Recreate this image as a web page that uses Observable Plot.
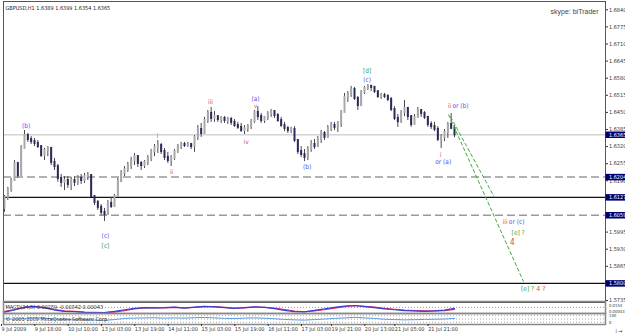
<!DOCTYPE html>
<html><head><meta charset="utf-8">
<script src="https://cdn.jsdelivr.net/npm/d3@7"></script>
<script src="https://cdn.jsdelivr.net/npm/@observablehq/plot@0.6"></script>
<style>
body{margin:0;background:#fff}
#wrap{position:relative;width:625px;height:334px;overflow:hidden;background:#fff}
#wrap svg{position:absolute;left:0}
</style>
</head><body><div id="wrap"></div>
<script>
// ---- price bars (one entry per bar) ----
const barOpen = [1.6085,1.6127,1.6157,1.6191,1.6256,1.6210,1.6313,1.6362,1.6347,1.6339,1.6332,1.6320,1.6286,1.6305,1.6313,1.6260,1.6244,1.6199,1.6184,1.6191,
1.6176,1.6191,1.6184,1.6199,1.6191,1.6206,1.6210,1.6130,1.6108,1.6089,1.6070,1.6062,1.6104,1.6092,1.6130,1.6187,1.6218,1.6233,1.6248,1.6267,
1.6282,1.6256,1.6248,1.6260,1.6275,1.6301,1.6317,1.6324,1.6301,1.6279,1.6267,1.6275,1.6301,1.6320,1.6328,1.6324,1.6328,1.6320,1.6355,1.6385,
1.6370,1.6419,1.6446,1.6427,1.6434,1.6423,1.6427,1.6419,1.6423,1.6412,1.6400,1.6393,1.6381,1.6389,1.6396,1.6415,1.6450,1.6434,1.6419,1.6431,
1.6446,1.6453,1.6438,1.6419,1.6400,1.6389,1.6381,1.6385,1.6343,1.6301,1.6290,1.6279,1.6309,1.6328,1.6320,1.6347,1.6370,1.6355,1.6389,1.6400,
1.6393,1.6408,1.6450,1.6507,1.6518,1.6537,1.6503,1.6476,1.6526,1.6541,1.6549,1.6545,1.6529,1.6510,1.6514,1.6510,1.6499,1.6461,1.6427,1.6415,
1.6450,1.6465,1.6434,1.6404,1.6431,1.6457,1.6446,1.6431,1.6404,1.6396,1.6385,1.6347,1.6355,1.6374,1.6404,1.6389];
const barHigh = [1.6134,1.6165,1.6199,1.6267,1.6256,1.6324,1.6381,1.6370,1.6358,1.6351,1.6343,1.6324,1.6313,1.6320,1.6313,1.6275,1.6252,1.6214,1.6206,1.6206,
1.6203,1.6206,1.6210,1.6214,1.6218,1.6222,1.6214,1.6134,1.6115,1.6100,1.6085,1.6115,1.6127,1.6138,1.6199,1.6229,1.6244,1.6260,1.6279,1.6294,
1.6286,1.6263,1.6267,1.6286,1.6309,1.6328,1.6343,1.6332,1.6313,1.6298,1.6286,1.6309,1.6328,1.6336,1.6336,1.6336,1.6332,1.6362,1.6400,1.6408,
1.6431,1.6457,1.6469,1.6453,1.6438,1.6434,1.6434,1.6431,1.6431,1.6423,1.6412,1.6408,1.6400,1.6404,1.6423,1.6457,1.6472,1.6446,1.6434,1.6453,
1.6461,1.6457,1.6446,1.6431,1.6412,1.6396,1.6393,1.6396,1.6347,1.6320,1.6309,1.6320,1.6343,1.6347,1.6358,1.6381,1.6377,1.6400,1.6412,1.6412,
1.6415,1.6457,1.6522,1.6529,1.6549,1.6545,1.6510,1.6533,1.6549,1.6556,1.6552,1.6549,1.6529,1.6522,1.6522,1.6518,1.6507,1.6472,1.6442,1.6457,
1.6495,1.6469,1.6438,1.6442,1.6469,1.6461,1.6453,1.6434,1.6415,1.6412,1.6396,1.6366,1.6385,1.6412,1.6446,1.6399];
const barLow = [1.6070,1.6115,1.6146,1.6191,1.6199,1.6210,1.6313,1.6336,1.6328,1.6320,1.6313,1.6279,1.6267,1.6282,1.6248,1.6229,1.6184,1.6165,1.6153,1.6161,
1.6153,1.6168,1.6172,1.6176,1.6180,1.6191,1.6127,1.6096,1.6077,1.6058,1.6035,1.6058,1.6085,1.6089,1.6127,1.6184,1.6206,1.6222,1.6233,1.6248,
1.6241,1.6229,1.6237,1.6248,1.6263,1.6282,1.6294,1.6290,1.6267,1.6256,1.6244,1.6267,1.6294,1.6309,1.6317,1.6317,1.6309,1.6298,1.6343,1.6355,
1.6366,1.6408,1.6412,1.6412,1.6412,1.6408,1.6408,1.6404,1.6400,1.6393,1.6385,1.6374,1.6366,1.6374,1.6385,1.6408,1.6419,1.6408,1.6408,1.6419,
1.6431,1.6427,1.6412,1.6393,1.6377,1.6370,1.6370,1.6336,1.6290,1.6279,1.6263,1.6267,1.6298,1.6309,1.6317,1.6332,1.6343,1.6351,1.6377,1.6381,
1.6374,1.6393,1.6450,1.6488,1.6507,1.6495,1.6457,1.6472,1.6518,1.6533,1.6529,1.6522,1.6503,1.6499,1.6503,1.6491,1.6453,1.6419,1.6393,1.6408,
1.6434,1.6419,1.6393,1.6404,1.6431,1.6431,1.6423,1.6393,1.6385,1.6377,1.6339,1.6313,1.6339,1.6351,1.6385,1.6354];
const barClose = [1.6127,1.6157,1.6191,1.6256,1.6210,1.6313,1.6362,1.6347,1.6339,1.6332,1.6320,1.6286,1.6305,1.6313,1.6260,1.6244,1.6199,1.6184,1.6191,1.6176,
1.6191,1.6184,1.6199,1.6191,1.6206,1.6210,1.6130,1.6108,1.6089,1.6070,1.6062,1.6104,1.6092,1.6130,1.6187,1.6218,1.6233,1.6248,1.6267,1.6282,
1.6256,1.6248,1.6260,1.6275,1.6301,1.6317,1.6324,1.6301,1.6279,1.6267,1.6275,1.6301,1.6320,1.6328,1.6324,1.6328,1.6320,1.6355,1.6385,1.6370,
1.6419,1.6446,1.6427,1.6434,1.6423,1.6427,1.6419,1.6423,1.6412,1.6400,1.6393,1.6381,1.6389,1.6396,1.6415,1.6450,1.6434,1.6419,1.6431,1.6446,
1.6453,1.6438,1.6419,1.6400,1.6389,1.6381,1.6385,1.6343,1.6301,1.6290,1.6279,1.6309,1.6328,1.6320,1.6347,1.6370,1.6355,1.6389,1.6400,1.6393,
1.6408,1.6450,1.6507,1.6518,1.6537,1.6503,1.6476,1.6526,1.6541,1.6549,1.6545,1.6529,1.6510,1.6514,1.6510,1.6499,1.6461,1.6427,1.6415,1.6450,
1.6465,1.6434,1.6404,1.6431,1.6457,1.6446,1.6431,1.6404,1.6396,1.6385,1.6347,1.6355,1.6374,1.6404,1.6389,1.6365];

// ---- time axis labels ----
const timeLabels = ["9 Jul 2009","9 Jul 18:00","10 Jul 10:00","13 Jul 03:00","13 Jul 19:00","14 Jul 11:00","15 Jul 03:00","15 Jul 19:00","16 Jul 11:00","17 Jul 03:00","19 Jul 21:00","20 Jul 13:00","21 Jul 05:00","21 Jul 21:00"];
const timeLabelBar = [0,10,20,30,40,50,60,70,80,90,99,109,118,128];

// ---- price axis ----
const priceTicks = [1.6840,1.6775,1.6710,1.6645,1.6580,1.6515,1.6450,1.6385,1.6320,1.6255,1.6190,1.6125,1.6060,1.5995,1.5930,1.5865,1.5800,1.5735];
const markedLevels = [1.6365,1.6204,1.6127,1.6059,1.5800];
const bidLevel = [1.6365];
const dashedLevels = [1.6204,1.6059];
const solidLevels = [1.6127,1.5800];

// ---- projection lines (bar, price) ----
const projStartBar = [133.2,133.8];
const projStartPrice = [1.6442,1.6434];
const projEndBar = [155.7,147.0];
const projEndPrice = [1.5807,1.6127];

// ---- wave labels ----
const waveText  = ["(b)","(c)","[c]","i","ii","iii","(a)","v","iv","(b)","[d]","(c)","ii","or (b)","i","or (a)","iii","or (c)","[e] ?","4","[e] ?","4 ?"];
const waveBar   = [6.5,30.3,30.3,45.9,50.1,61.8,75.3,75.3,72.5,90.8,108.8,108.8,134.0,134.4,130.8,131.6,150.9,151.3,154.1,152.3,158.9,159.5];
const wavePrice = [1.6400,1.5982,1.5944,1.6362,1.6222,1.6488,1.6501,1.6474,1.6339,1.6241,1.6609,1.6575,1.6476,1.6476,1.6290,1.6263,1.6032,1.6032,1.5991,1.5957,1.5780,1.5780];
const waveKind  = ["b","b","g","r","r","r","b","r","r","b","g","b","r","b","r","b","r","b","g","r","g","r"];
const waveAnchor= ["middle","middle","middle","middle","middle","middle","middle","middle","middle","middle","middle","middle","end","start","middle","middle","end","start","middle","middle","end","start"];
const waveSize  = [6.5,6.5,6.5,6.5,6.5,6.5,6.5,6,6.5,6.5,6.5,6.5,6.5,6.5,6.5,6.5,6.5,6.5,6.5,8,6.5,7];

// ---- indicator panels (every 3rd bar) ----
const indBar = d3.range(0, 136, 3);
const macdRed = [-0.0030,-0.0016,-0.0002,0.0006,0.0000,-0.0016,-0.0026,-0.0030,-0.0035,-0.0038,-0.0040,-0.0036,-0.0024,-0.0012,-0.0004,-0.0003,-0.0004,0.0000,-0.0004,0.0000,
0.0006,0.0005,0.0000,-0.0006,-0.0004,0.0002,0.0001,-0.0006,-0.0016,-0.0028,-0.0033,-0.0026,-0.0018,-0.0006,0.0006,0.0013,0.0008,0.0002,-0.0008,-0.0014,
-0.0021,-0.0024,-0.0027,-0.0027,-0.0024,-0.0015];
const macdBlue = [-0.0036,-0.0020,0.0002,0.0008,-0.0004,-0.0020,-0.0030,-0.0032,-0.0038,-0.0040,-0.0040,-0.0030,-0.0018,-0.0008,-0.0002,-0.0004,-0.0002,0.0002,-0.0006,0.0002,
0.0008,0.0004,-0.0002,-0.0008,-0.0002,0.0004,0.0000,-0.0010,-0.0022,-0.0032,-0.0034,-0.0022,-0.0012,0.0000,0.0010,0.0014,0.0006,-0.0002,-0.0012,-0.0018,
-0.0024,-0.0026,-0.0030,-0.0026,-0.0020,-0.0008];
const macdAxisLabels = ["0.0153","0.00043"];
const macdAxisAt = [0.0010,-0.0030];
const oscValues = [52,48,55,60,58,50,45,44,42,40,38,45,55,58,60,62,57,60,58,62,64,60,56,54,58,60,57,52,46,42,40,45,50,55,60,65,60,55,48,45,42,44,46,48,50,55];
const oscLevels = [20,50,80];
const oscAxisLabels = ["100","0"];
const oscAxisAt = [78,18];

// ---- build tables ----
const bars = barClose.map((c,i)=>({i, open:barOpen[i], high:barHigh[i], low:barLow[i], close:c}));
const proj = projStartBar.map((b,k)=>({x1:b, y1:projStartPrice[k], x2:projEndBar[k], y2:projEndPrice[k]}));
const colors = {b:"#5555ee", r:"#d84a4a", g:"#3d9e3d"};
const waves = waveText.map((t,k)=>({t, i:waveBar[k], p:wavePrice[k], c:colors[waveKind[k]], a:waveAnchor[k], s:waveSize[k]}));
const macd = indBar.map((b,k)=>({i:b, red:macdRed[k], blue:macdBlue[k]}));
const osc = indBar.map((b,k)=>({i:b, v:oscValues[k]}));
const last = bars[bars.length-1];
const title = `GBPUSD,H1 ${last.open.toFixed(4)} ${last.high.toFixed(4)} ${last.low.toFixed(4)} ${last.close.toFixed(4)}`;

const FONT = "'Liberation Sans Narrow','DejaVu Sans Condensed','Liberation Sans',Arial,sans-serif";
const W = 625, ML = 3, MR = 20;
const XD = [-0.3, 180.3];
// convert a pixel column of the right price-axis strip into x-scale units (for the label boxes)
const pxToX = px => XD[0] + (px - ML) * (XD[1] - XD[0]) / (W - ML - MR);
const common = {width:W, marginLeft:ML, marginRight:MR, x:{domain:XD, axis:null}, style:{fontFamily:FONT, fontSize:"5.5px", background:"transparent", overflow:"visible"}};
const upCol = "#a8a8a8", dnCol = "#2a2a58", wick = "#4a4a4a";

const waveMarks = ["start","middle","end"].map(a =>
  Plot.text(waves.filter(d=>d.a===a), {x:"i", y:"p", text:"t", fill:"c", textAnchor:a, fontSize:"s", fontFamily:FONT}));

const main = Plot.plot({
  ...common, height:302, marginTop:1, marginBottom:0,
  y:{domain:[1.57274, 1.68715], axis:null},
  marks:[
    Plot.ruleY(bidLevel, {stroke:"#d4d4d4", strokeWidth:1.5}),
    Plot.ruleY(dashedLevels, {stroke:"#9a9a9a", strokeWidth:1.5, strokeDasharray:"8,4"}),
    Plot.ruleY(solidLevels, {stroke:"#111", strokeWidth:1.2}),
    Plot.ruleX(bars, {x:"i", y1:"low", y2:"high", stroke:wick, strokeWidth:1}),
    Plot.ruleX(bars, {x:"i", y1:"open", y2:"close", strokeWidth:2, strokeLinecap:"square", stroke:d=>d.close>=d.open?upCol:dnCol}),
    Plot.link(proj, {x1:"x1", y1:"y1", x2:"x2", y2:"y2", stroke:"#44aa44", strokeWidth:1, strokeDasharray:"4,2"}),
    ...waveMarks,
    Plot.frame({stroke:"#555"}),
    Plot.axisY({anchor:"right", ticks:priceTicks, tickFormat:d=>d.toFixed(4), tickSize:2, tickPadding:1.5, fontSize:5.5, fill:"#333", stroke:"#333"}),
    Plot.ruleY(markedLevels, {x1:pxToX(605.5), x2:pxToX(625), stroke:"#00006e", strokeWidth:6.5}),
    Plot.text(markedLevels, {y:d=>d, text:d=>d.toFixed(4), frameAnchor:"right", dx:3.5, textAnchor:"start", fill:"white", fontSize:5.5}),
    Plot.text([title], {frameAnchor:"top-left", dx:2, dy:5, textAnchor:"start", text:d=>d, fill:"#222", fontSize:5.5}),
    Plot.text(["skype: biTrader"], {frameAnchor:"top-right", dx:-7, dy:8, textAnchor:"end", text:d=>d, fill:"#444", fontSize:7, fontFamily:"'Liberation Sans',Arial,sans-serif"})
  ]
});

const p1 = Plot.plot({
  ...common, height:12, marginTop:0, marginBottom:0,
  y:{domain:[-0.0046, 0.0044], axis:null},
  marks:[
    Plot.ruleY([0], {stroke:"#999", strokeDasharray:"1,2"}),
    Plot.line(macd, {x:"i", y:"red", stroke:"#e0306a", strokeWidth:1.2}),
    Plot.line(macd, {x:"i", y:"blue", stroke:"#3a3ad8", strokeWidth:1.2}),
    Plot.text(["MACD(34,5) 0.00259 -0.00342 0.00043"], {frameAnchor:"left", dx:2, textAnchor:"start", text:d=>d, fill:"#333", fontSize:5.5}),
    Plot.frame({stroke:"#888", strokeWidth:1.5}),
    Plot.text(macdAxisLabels, {frameAnchor:"right", dx:3.5, y:(d,k)=>macdAxisAt[k], textAnchor:"start", text:d=>d, fill:"#333", fontSize:4.2})
  ]
});

const p2 = Plot.plot({
  ...common, height:22, marginTop:0, marginBottom:11,
  y:{domain:[0,100], axis:null},
  marks:[
    Plot.ruleY(oscLevels, {stroke:"#aaa", strokeDasharray:"1,2"}),
    Plot.line(osc, {x:"i", y:"v", stroke:"#5a9ae0", strokeWidth:1}),
    Plot.text(["© 2001-2009 MetaQuotes Software Corp."], {frameAnchor:"left", dx:2, textAnchor:"start", text:d=>d, fill:"#333", fontSize:5.5}),
    Plot.frame({stroke:"#888", strokeWidth:1.5}),
    Plot.text(oscAxisLabels, {frameAnchor:"right", dx:3.5, y:(d,k)=>oscAxisAt[k], textAnchor:"start", text:d=>d, fill:"#333", fontSize:4.2}),
    Plot.axisX({ticks:timeLabelBar, tickFormat:i=>timeLabels[timeLabelBar.indexOf(i)], tickSize:2, tickPadding:1, textAnchor:"start", dx:-3, fontSize:5.5, fill:"#333", stroke:"#333"})
  ]
});

const wrap = document.getElementById("wrap");
[[main,0],[p1,301],[p2,313]].forEach(([svg,top])=>{ svg.style.top = top+"px"; wrap.appendChild(svg); });
</script>
</body></html>
